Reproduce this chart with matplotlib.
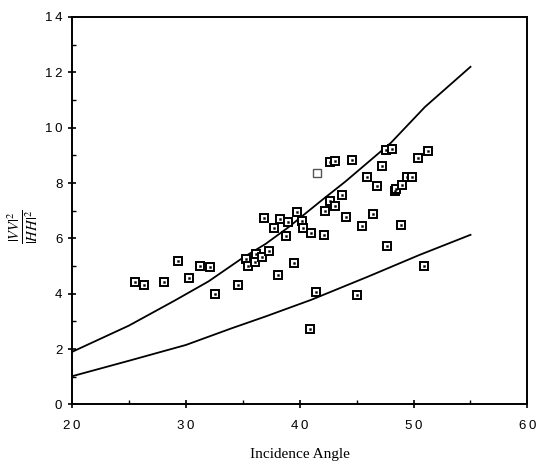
import matplotlib
matplotlib.use("Agg")
import matplotlib.pyplot as plt
from matplotlib.ticker import MultipleLocator, FuncFormatter

plt.rcParams["mathtext.fontset"] = "stix"

# measured points (incidence angle, |VV|^2/|HH|^2)
angle = [25.5, 26.3, 28.1, 29.3, 30.3, 31.2, 32.1, 32.6, 34.6, 35.3,
         35.5, 36.1, 36.2, 36.7, 37.3, 36.9, 37.7, 38.3, 39.0, 39.8,
         40.2, 40.3, 38.8, 38.1, 39.5, 41.0, 42.1, 41.4, 40.9, 42.2,
         42.7, 43.1, 43.7, 44.1, 42.7, 43.1, 44.6, 45.5, 45.0, 45.9,
         46.4, 46.8, 47.2, 47.6, 48.1, 47.7, 48.4, 48.5, 49.0, 48.9,
         49.4, 49.9, 50.4, 51.3, 50.9]
ratio = [4.41, 4.31, 4.41, 5.18, 4.57, 5.01, 4.95, 4.00, 4.30, 5.24,
         5.00, 5.16, 5.42, 5.34, 5.53, 6.72, 6.36, 6.70, 6.58, 6.96,
         6.62, 6.39, 6.10, 4.68, 5.12, 6.18, 6.14, 4.05, 2.74, 7.00,
         7.34, 7.17, 7.57, 6.79, 8.75, 8.79, 8.85, 6.45, 3.95, 8.21,
         6.88, 7.88, 8.62, 9.18, 9.23, 5.74, 7.70, 7.79, 7.94, 6.50,
         8.21, 8.21, 8.89, 9.17, 5.00]

# the faint open square
open_angle = [41.55]
open_ratio = [8.37]

# model curves
upper_x = [20, 25, 29, 32, 35, 37, 39, 42, 44, 48, 51, 55]
upper_y = [1.9, 2.85, 3.75, 4.45, 5.3, 5.8, 6.4, 7.4, 8.05, 9.45, 10.75, 12.2]
lower_x = [20, 25, 30, 34, 37, 41, 46, 50.5, 55]
lower_y = [1.02, 1.58, 2.15, 2.75, 3.18, 3.78, 4.62, 5.4, 6.13]


def spaced(v, pos):
    return "\u2009".join(str(int(v)))


fig = plt.figure(figsize=(5.36, 4.68), dpi=100)
ax = fig.add_axes([0.1343, 0.1357, 0.8497, 0.828])

ax.plot(upper_x, upper_y, color="black", lw=1.3)
ax.plot(lower_x, lower_y, color="black", lw=1.3)

ax.plot(angle, ratio, linestyle="none", marker="s", ms=6,
        mfc="white", mec="black", mew=1.4)
ax.plot(angle, ratio, linestyle="none", marker="s", ms=1.4,
        mfc="black", mec="black", mew=0.3)
ax.plot(open_angle, open_ratio, linestyle="none", marker="s", ms=5.5,
        mfc="white", mec="#555555", mew=1.0)

ax.set_xlim(20, 60)
ax.set_ylim(0, 14)
ax.xaxis.set_major_locator(MultipleLocator(10))
ax.xaxis.set_minor_locator(MultipleLocator(5))
ax.yaxis.set_major_locator(MultipleLocator(2))
ax.yaxis.set_minor_locator(MultipleLocator(1))
ax.xaxis.set_major_formatter(FuncFormatter(spaced))
ax.yaxis.set_major_formatter(FuncFormatter(spaced))

ax.tick_params(which="major", direction="inout", length=6, width=1.2,
               labelsize=9.5, pad=4)
ax.tick_params(which="minor", direction="in", length=3, width=1.0)
ax.tick_params(axis="x", which="major", pad=8)
for lab in ax.get_xticklabels() + ax.get_yticklabels():
    lab.set_fontfamily("Liberation Sans")

for s in ax.spines.values():
    s.set_linewidth(1.4)

ax.set_xlabel("Incidence Angle", fontfamily="Liberation Serif",
              fontsize=11, labelpad=12)
ax.set_ylabel(r"$\frac{|VV|^2}{|HH|^2}$", fontsize=15, rotation=90)
ax.yaxis.set_label_coords(-0.07, 0.46)

fig.savefig("out.png", dpi=100)
